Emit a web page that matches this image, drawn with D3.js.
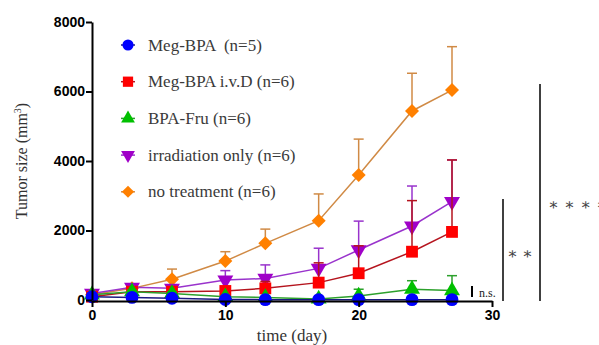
<!DOCTYPE html>
<html><head><meta charset="utf-8">
<script src="https://cdn.jsdelivr.net/npm/d3@7"></script>
<style>body{margin:0;background:#fff}svg{display:block}
.serif{font-family:"Liberation Serif","DejaVu Serif","Times New Roman",serif;white-space:pre}
</style>
</head><body>
<svg id="c" width="599" height="345"></svg>
<script>
const days = [0, 3, 6, 10, 13, 17, 20, 24, 27];
const xTicks = [0, 10, 20, 30];
const yTicks = [0, 2000, 4000, 6000, 8000];
const seriesNames = ["Meg-BPA  (n=5)", "Meg-BPA i.v.D (n=6)", "BPA-Fru (n=6)", "irradiation only (n=6)", "no treatment (n=6)"];
const megBPA = [95, 75, 50, 15, 10, 10, 10, 10, 10];
const megBPAsd = [20, 30, 20, 10, 10, 10, 10, 10, 10];
const megIvD = [95, 240, 240, 260, 335, 500, 770, 1390, 1960];
const megIvDsd = [30, 50, 60, 100, 200, 570, 790, 1470, 2070];
const bpaFru = [150, 240, 190, 95, 75, 30, 115, 310, 270];
const bpaFrusd = [20, 40, 40, 30, 30, 20, 195, 245, 430];
const irrOnly = [190, 365, 335, 575, 620, 910, 1440, 2130, 2830];
const irrOnlysd = [40, 60, 80, 270, 390, 580, 830, 1150, 1200];
const noTreat = [150, 335, 595, 1120, 1630, 2282, 3600, 5440, 6040];
const noTreatsd = [30, 60, 295, 270, 410, 770, 1030, 1085, 1250];

const series = [
  {name: seriesNames[0], v: megBPA, sd: megBPAsd, line: "#1a1a80", fill: "#0000ff", sym: "circle"},
  {name: seriesNames[1], v: megIvD, sd: megIvDsd, line: "#b5141e", fill: "#ff0000", sym: "square"},
  {name: seriesNames[2], v: bpaFru, sd: bpaFrusd, line: "#2ca02c", fill: "#00c000", sym: "triangle"},
  {name: seriesNames[3], v: irrOnly, sd: irrOnlysd, line: "#9933cc", fill: "#a000c8", sym: "tridown"},
  {name: seriesNames[4], v: noTreat, sd: noTreatsd, line: "#d08a45", fill: "#ff8000", sym: "diamond"}
];

const svg = d3.select("#c");
const x = d3.scaleLinear().domain([0, 30]).range([92, 492]);
const y = d3.scaleLinear().domain([0, 8000]).range([300, 22]);

function symPath(sym, k) {
  k = k || 1;
  if (sym === "circle") return d3.symbol(d3.symbolCircle, 130 * k)();
  if (sym === "square") return d3.symbol(d3.symbolSquare, 140 * k)();
  if (sym === "triangle") return d3.symbol(d3.symbolTriangle, 110 * k)();
  if (sym === "tridown") return d3.symbol(d3.symbolTriangle, 110 * k)();
  const r = 7 * Math.sqrt(k);
  if (sym === "diamond") return `M0,${-r}L${r},0L0,${r}L${-r},0Z`;
}
function symRot(sym) { return sym === "tridown" ? " rotate(180)" : ""; }

const order = [4, 3, 1, 2, 0];
order.forEach(i => {
  const s = series[i];
  const g = svg.append("g");
  days.forEach((d, k) => {
    const cx = x(d), y0 = y(s.v[k]), y1 = y(s.v[k] + s.sd[k]);
    g.append("line").attr("x1", cx).attr("x2", cx).attr("y1", y0).attr("y2", y1)
      .attr("stroke", s.line).attr("stroke-width", 1.5);
    g.append("line").attr("x1", cx - 5).attr("x2", cx + 5).attr("y1", y1).attr("y2", y1)
      .attr("stroke", s.line).attr("stroke-width", 1.5);
  });
  const line = d3.line().x((d, k) => x(days[k])).y(d => y(d));
  g.append("path").attr("d", line(s.v)).attr("fill", "none").attr("stroke", s.line).attr("stroke-width", 1.5);
  days.forEach((d, k) => {
    g.append("path").attr("d", symPath(s.sym))
      .attr("transform", `translate(${x(d)},${y(s.v[k])})${symRot(s.sym)}`)
      .attr("fill", s.fill);
  });
});

const yAxis = svg.append("g").attr("transform", "translate(92,0)")
  .call(d3.axisLeft(y).tickValues(yTicks).tickSize(6).tickSizeOuter(0).tickFormat(d3.format("d")));
const xAxis = svg.append("g").attr("transform", "translate(0,301)")
  .call(d3.axisBottom(x).tickValues(xTicks).tickSize(6).tickSizeOuter(0));
[yAxis, xAxis].forEach(a => {
  a.select(".domain").attr("stroke", "#000").attr("stroke-width", 2);
  a.selectAll(".tick line").attr("stroke", "#000").attr("stroke-width", 2);
  a.selectAll(".tick text").attr("fill", "#000").style("font-family", "'Liberation Sans', Arial, sans-serif")
    .style("font-weight", "bold").style("font-size", "14px");
});
yAxis.selectAll(".tick text").attr("x", -7);
xAxis.selectAll(".tick text").attr("y", 9);

const yt = svg.append("text").attr("class", "serif").attr("transform", "translate(27,161) rotate(-90)")
  .attr("text-anchor", "middle").style("font-size", "16px").attr("fill", "#333");
yt.append("tspan").text("Tumor size (mm");
yt.append("tspan").text("3").attr("dy", -6).style("font-size", "10px");
yt.append("tspan").text(")").attr("dy", 6);
svg.append("text").attr("class", "serif").attr("x", 292).attr("y", 341).attr("text-anchor", "middle")
  .style("font-size", "17px").attr("fill", "#333").text("time (day)");

series.forEach((s, i) => {
  const ly = 45 + i * 36.7;
  svg.append("line").attr("x1", 121).attr("x2", 135).attr("y1", ly).attr("y2", ly).attr("stroke", s.line).attr("stroke-width", 1.5);
  svg.append("path").attr("d", symPath(s.sym, 0.75)).attr("transform", `translate(128,${ly})${symRot(s.sym)}`).attr("fill", s.fill);
  svg.append("text").attr("class", "serif").attr("x", 148).attr("y", ly + 5.5)
    .style("font-size", "17px").attr("fill", "#3a3a3a").text(s.name);
});

function vbar(xp, y1, y2, w) {
  svg.append("line").attr("x1", xp).attr("x2", xp).attr("y1", y1).attr("y2", y2).attr("stroke", "#000").attr("stroke-width", w);
}
vbar(472, 286, 297, 2);
svg.append("text").attr("class", "serif").attr("x", 479).attr("y", 297).style("font-size", "12px").attr("fill", "#222").text("n.s.");
vbar(503, 199, 301, 1.5);
svg.append("text").attr("class", "serif").attr("x", 507).attr("y", 259).style("font-size", "16px").attr("fill", "#444").text("\u2217 \u2217");
vbar(540, 84, 301, 1.5);
svg.append("text").attr("class", "serif").attr("x", 548).attr("y", 210).style("font-size", "16px").style("letter-spacing", "0.6px").attr("fill", "#444").text("\u2217 \u2217 \u2217 \u2217");
</script>
</body></html>
